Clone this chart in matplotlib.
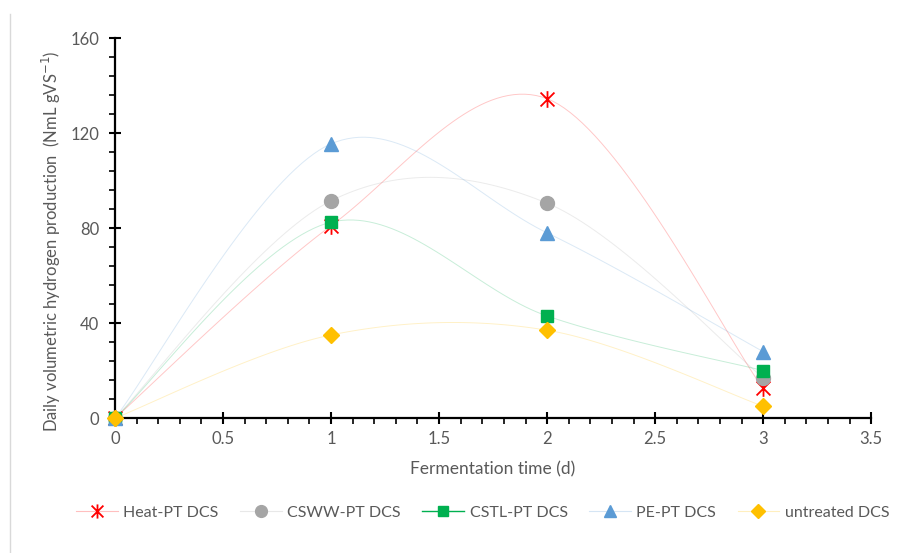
import numpy as np
import matplotlib.pyplot as plt
from matplotlib.path import Path
from matplotlib.lines import Line2D
from matplotlib.ticker import MultipleLocator

plt.rcParams['font.family'] = ['Lato', 'DejaVu Sans']

# fermentation time (d)
days = [0, 1, 2, 3]
heat_pt = [0, 81, 134.5, 12.5]
csww_pt = [0, 91.5, 90.5, 17]
cstl_pt = [0, 82.5, 43, 20]
pe_pt = [0, 115.5, 78, 28]
untreated = [0, 35, 37, 5]

labels = ['Heat-PT DCS', 'CSWW-PT DCS', 'CSTL-PT DCS', 'PE-PT DCS', 'untreated DCS']
colors = ['#FF0000', '#A5A5A5', '#00B050', '#5B9BD5', '#FFC000']

# excel style star marker (x with a vertical bar)
star = Path([(-1, -1), (1, 1), (-1, 1), (1, -1), (0, -1.2), (0, 1.2)],
            [Path.MOVETO, Path.LINETO, Path.MOVETO, Path.LINETO, Path.MOVETO, Path.LINETO])
markers = [star, 'o', 's', '^', 'D']
msizes = [12, 10, 9, 10, 8]


def smooth(x, y, n=40):
    # bezier smoothing like excel's "smoothed line"
    p = np.column_stack([x, y]).astype(float)
    pts = np.vstack([p[0], p, p[-1]])
    t = np.linspace(0, 1, n)[:, None]
    out = []
    for i in range(1, len(pts) - 2):
        p0, p1 = pts[i], pts[i + 1]
        c1 = p0 + (pts[i + 1] - pts[i - 1]) / 6
        c2 = p1 - (pts[i + 2] - pts[i]) / 6
        seg = (1 - t)**3 * p0 + 3 * (1 - t)**2 * t * c1 + 3 * (1 - t) * t**2 * c2 + t**3 * p1
        out.append(seg)
    out = np.vstack(out)
    return out[:, 0], out[:, 1]


fig = plt.figure(figsize=(8.99, 5.53), dpi=100)
ax = fig.add_axes([0.128, 0.244, 0.841, 0.687])

series = [heat_pt, csww_pt, cstl_pt, pe_pt, untreated]
for vals, c, m, ms in zip(series, colors, markers, msizes):
    sx, sy = smooth(days, vals)
    ax.plot(sx, sy, color=c, lw=0.7, alpha=0.22, zorder=2)
    if m is star:
        ax.plot(days, vals, ls='none', marker=m, ms=ms, mec=c, mew=1.3, zorder=3,
                clip_on=False)
    else:
        ax.plot(days, vals, ls='none', marker=m, ms=ms, color=c, mec=c, zorder=3,
                clip_on=False)

ax.set_xlim(0, 3.5)
ax.set_ylim(0, 160)
ax.xaxis.set_major_locator(MultipleLocator(0.5))
ax.xaxis.set_minor_locator(MultipleLocator(0.1))
ax.yaxis.set_major_locator(MultipleLocator(40))
ax.yaxis.set_minor_locator(MultipleLocator(8))
ax.set_xticks([0, 0.5, 1, 1.5, 2, 2.5, 3, 3.5])
ax.set_xticklabels(['0', '0.5', '1', '1.5', '2', '2.5', '3', '3.5'])

for s in ['top', 'right']:
    ax.spines[s].set_visible(False)
for s in ['left', 'bottom']:
    ax.spines[s].set_linewidth(1.6)
    ax.spines[s].set_color('black')
    ax.spines[s].set_zorder(1)

ax.tick_params(which='major', direction='inout', length=9, width=1.5, colors='black',
               labelcolor='#595959', labelsize=12)
ax.tick_params(which='minor', direction='out', length=4, width=1.2, colors='black')
ax.tick_params(axis='x', which='major', pad=5)
ax.tick_params(axis='y', which='major', pad=7)

ax.set_xlabel('Fermentation time (d)', fontsize=12.5, color='#595959', labelpad=10)
ax.set_ylabel('Daily volumetric hydrogen production  (NmL gVS$^{-1}$)', fontsize=12,
              color='#595959')
ax.yaxis.set_label_coords(-0.069, 0.466)

handles = []
for i, (c, m, ms) in enumerate(zip(colors, markers, msizes)):
    line_alpha = 1.0 if i == 2 else 0.25
    h = Line2D([0], [0], color=c, lw=1.0 if i == 2 else 0.8, alpha=line_alpha)
    mk = Line2D([0], [0], ls='none', marker=m, ms=ms * 0.85, color=c, mec=c,
                mew=1.3 if m is star else 1.0)
    handles.append((h, mk))

leg = fig.legend(handles, labels, loc='center', bbox_to_anchor=(0.537, 0.073), ncol=5,
                 frameon=False, fontsize=11.5, handlelength=2.6, columnspacing=1.35,
                 handletextpad=0.35)
for t in leg.get_texts():
    t.set_color('#595959')

# left border line of chart area
fig.add_artist(Line2D([0.011, 0.011], [0.0, 0.975], color='#D9D9D9', lw=1.0))

fig.savefig('out.png', dpi=100)
